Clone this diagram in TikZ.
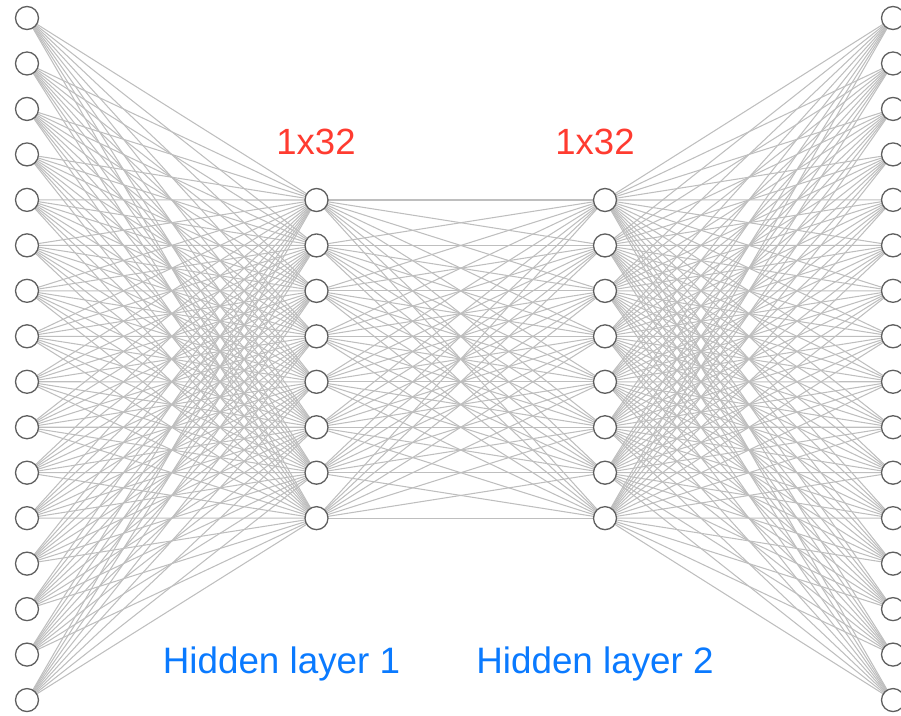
\documentclass[tikz,border=0pt]{standalone}
\usepackage{fontspec}
\setmainfont{Liberation Sans}
\definecolor{edgegray}{RGB}{190,190,190}
\definecolor{ringgray}{RGB}{95,95,95}
\definecolor{sizered}{RGB}{255,59,48}
\definecolor{layerblue}{RGB}{10,122,255}
\tikzset{
  neuron/.style={circle, draw=ringgray, line width=1.3pt, fill=white, minimum size=23pt, inner sep=0pt},
  synapse/.style={draw=edgegray, line width=1.05pt},
  sizelabel/.style={text=sizered, font=\fontsize{36.5}{40}\selectfont, inner sep=0pt},
  layerlabel/.style={text=layerblue, font=\fontsize{36.8}{40}\selectfont, inner sep=0pt}
}
\begin{document}
\begin{tikzpicture}[x=1pt,y=-1pt]
\useasboundingbox (0,0) rectangle (901,715);
% coordinates of the four layers
\foreach \i in {1,...,16} {
  \coordinate (in\i) at (27,{18+45.47*(\i-1)});
  \coordinate (out\i) at (893,{18+45.47*(\i-1)});
}
\foreach \j in {1,...,8} {
  \coordinate (ha\j) at (316.5,{200+45.45*(\j-1)});
  \coordinate (hb\j) at (605,{200+45.45*(\j-1)});
}
% fully connected edges
\foreach \i in {1,...,16} {
  \foreach \j in {1,...,8} {
    \draw[synapse] (in\i) -- (ha\j);
    \draw[synapse] (hb\j) -- (out\i);
  }
}
\foreach \j in {1,...,8} {
  \foreach \k in {1,...,8} {
    \draw[synapse] (ha\j) -- (hb\k);
  }
}
% neurons
\foreach \i in {1,...,16} {
  \node[neuron] (nin\i) at (in\i) {};
  \node[neuron] (nout\i) at (out\i) {};
}
\foreach \j in {1,...,8} {
  \node[neuron] (nha\j) at (ha\j) {};
  \node[neuron] (nhb\j) at (hb\j) {};
}
% labels
\node[sizelabel, anchor=base] (sizeA) at (316,154) {1x32};
\node[sizelabel, anchor=base] (sizeB) at (595,154) {1x32};
\node[layerlabel, anchor=base] (layerA) at (281.5,673) {Hidden layer 1};
\node[layerlabel, anchor=base] (layerB) at (595,673) {Hidden layer 2};
\end{tikzpicture}
\end{document}
